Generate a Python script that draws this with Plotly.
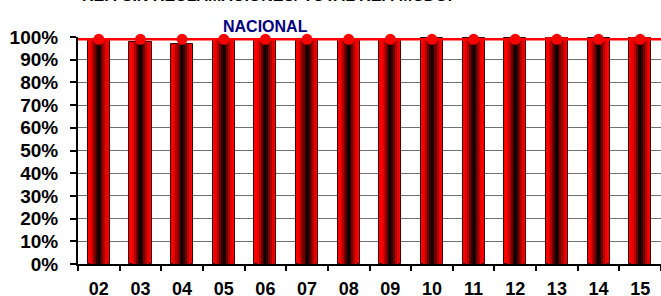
import plotly.graph_objects as go

categories = ["02", "03", "04", "05", "06", "07", "08", "09", "10", "11", "12", "13", "14", "15"]
values = [0.990, 0.977, 0.969, 0.987, 0.985, 0.985, 0.991, 0.991, 0.995, 0.995, 0.995, 1.000, 0.995, 1.000]
target = [0.99, 0.99, 0.99, 0.99, 0.99, 0.99, 0.99, 0.99, 0.99, 0.99, 0.99, 0.99, 0.99, 0.99]
y_ticks = [0, 0.1, 0.2, 0.3, 0.4, 0.5, 0.6, 0.7, 0.8, 0.9, 1.0]
y_labels = ["0%", "10%", "20%", "30%", "40%", "50%", "60%", "70%", "80%", "90%", "100%"]
title_main = "REP. SIN RECLAMACIONES/ TOTAL REP. MCDO."
title_sub = "NACIONAL"

FONT = "Arial, 'Liberation Sans', sans-serif"

fig = go.Figure()

# cylinder-like shading: overlaid bars of decreasing width and darker colour
layers = [
    (0.53, "#ff0000", dict(color="#3a0000", width=1)),
    (0.42, "#e80000", dict(width=0)),
    (0.32, "#b00000", dict(width=0)),
    (0.22, "#700000", dict(width=0)),
    (0.12, "#300000", dict(width=0)),
    (0.05, "#100000", dict(width=0)),
]
for w, c, ln in layers:
    fig.add_trace(go.Bar(
        x=categories, y=values, width=w,
        marker=dict(color=c, line=ln),
        showlegend=False, hoverinfo="skip",
    ))

fig.add_hline(y=target[0], line=dict(color="#ff0000", width=2.5), layer="above")

fig.add_trace(go.Scatter(
    x=categories, y=target, mode="markers",
    marker=dict(color="#ff0000", size=11, symbol="circle"),
    cliponaxis=False, showlegend=False,
))

fig.add_annotation(
    text="<b>" + title_main + "</b>", xref="paper", yref="paper",
    x=(267 - 78) / 583, y=1.0, yshift=31, xanchor="center", yanchor="bottom",
    showarrow=False, font=dict(family=FONT, size=16, color="black"),
)
fig.add_annotation(
    text="<b>" + title_sub + "</b>", xref="paper", yref="paper",
    x=(265 - 78) / 583, y=1.0, yshift=0, xanchor="center", yanchor="bottom",
    showarrow=False, font=dict(family=FONT, size=16, color="#000080"),
)

fig.update_layout(
    width=661, height=296,
    margin=dict(l=78, r=0, t=37, b=32),
    paper_bgcolor="white", plot_bgcolor="white",
    barmode="overlay", bargap=0,
    font=dict(family=FONT, color="black"),
)
fig.update_xaxes(
    type="category", range=[-0.5, len(categories) - 0.5],
    tickson="boundaries", ticks="outside", ticklen=5,
    tickcolor="black", tickwidth=1.5, automargin=False,
    showline=True, linecolor="black", linewidth=2,
    showgrid=False, ticklabelstandoff=7,
    tickfont=dict(family=FONT, size=18, color="black", weight="bold"),
)
fig.update_yaxes(
    range=[0, 1], tickvals=y_ticks, ticktext=y_labels, automargin=False,
    ticks="outside", ticklen=6, tickcolor="black", tickwidth=1.5,
    showline=True, linecolor="black", linewidth=2,
    showgrid=True, gridcolor="#707070", gridwidth=1,
    zeroline=False, ticklabelstandoff=8,
    tickfont=dict(family=FONT, size=19, color="black", weight="bold"),
)

# remove the default 8px page margin so the figure fills the window exactly
fig.write_html(
    "out.html",
    config={"displayModeBar": False},
    post_script="document.body.style.margin='0';document.body.style.overflow='hidden';",
)
